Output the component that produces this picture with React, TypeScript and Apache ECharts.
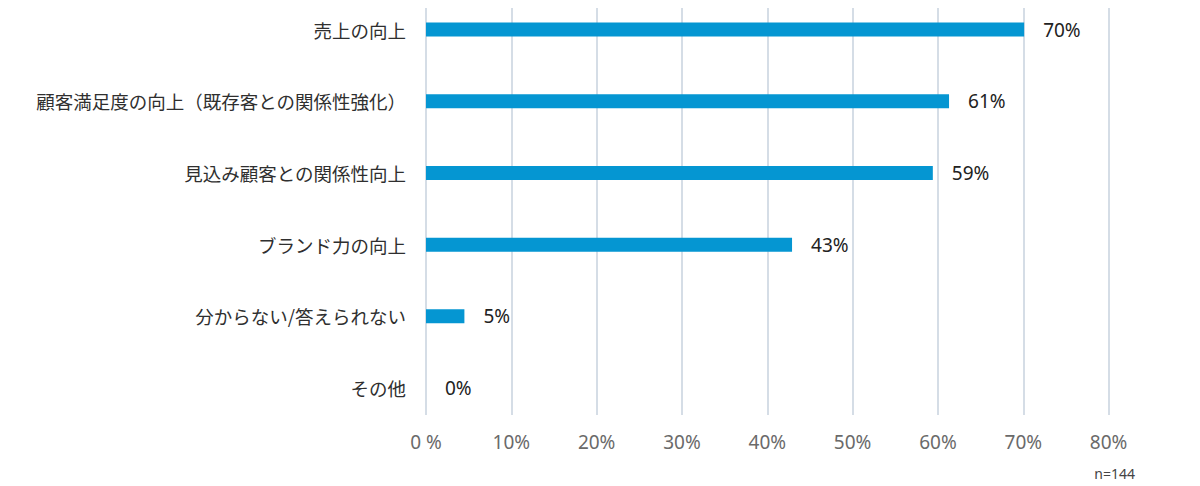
import React, { useEffect, useRef } from "react";
import * as echarts from "echarts";

const categories = [
  "売上の向上",
  "顧客満足度の向上（既存客との関係性強化）",
  "見込み顧客との関係性向上",
  "ブランド力の向上",
  "分からない/答えられない",
  "その他",
];
const values = [70.1, 61.3, 59.4, 42.9, 4.5, 0];
const valueLabels = ["70%", "61%", "59%", "43%", "5%", "0%"];
const tickValues = [0, 10, 20, 30, 40, 50, 60, 70, 80];
const tickLabels = ["0 %", "10%", "20%", "30%", "40%", "50%", "60%", "70%", "80%"];
const note = "n=144";

export default function App() {
  const ref = useRef<HTMLDivElement>(null);
  useEffect(() => {
    if (!ref.current) return;
    const chart = echarts.init(ref.current, undefined, { renderer: "svg" });
    const latin = "'Noto Sans', 'Noto Sans CJK JP', sans-serif";
    const cjk = "'Noto Sans CJK JP', 'Noto Sans', sans-serif";
    chart.setOption({
      animation: false,
      backgroundColor: "#ffffff",
      grid: [
        { left: 426, right: 91.4, top: 8, height: 407 },
        { left: 426, right: 91.4, top: 29.6, height: 358.4 },
      ],
      xAxis: [
        {
          gridIndex: 0,
          type: "value",
          min: 0,
          max: 80,
          interval: 10,
          axisLine: { show: false },
          axisTick: { show: false },
          splitLine: { show: true, lineStyle: { color: "#d5dde6", width: 2 } },
          axisLabel: {
            margin: 17,
            fontSize: 19,
            color: "#6a6a6a",
            fontFamily: latin,
            formatter: (v: number) => tickLabels[tickValues.indexOf(v)] ?? v + "%",
          },
        },
        {
          gridIndex: 1,
          type: "value",
          min: 0,
          max: 80,
          interval: 10,
          show: false,
          splitLine: { show: false },
        },
      ],
      yAxis: [
        { gridIndex: 0, type: "category", data: categories, show: false },
        {
          gridIndex: 1,
          type: "category",
          data: categories,
          inverse: true,
          boundaryGap: false,
          axisLine: { show: false },
          axisTick: { show: false },
          splitLine: { show: false },
          axisLabel: {
            margin: 20,
            fontSize: 18.5,
            color: "#2f2f2f",
            fontFamily: cjk,
          },
        },
      ],
      series: [
        {
          type: "bar",
          xAxisIndex: 1,
          yAxisIndex: 1,
          data: values,
          barWidth: 14,
          itemStyle: { color: "#0596d2" },
          label: {
            show: true,
            position: "right",
            distance: 19,
            fontSize: 19,
            color: "#222222",
            fontFamily: latin,
            formatter: (p: any) => valueLabels[p.dataIndex],
          },
        },
      ],
      graphic: [
        {
          type: "text",
          right: 65,
          top: 466,
          style: {
            text: note,
            fontSize: 14,
            fill: "#444444",
            fontFamily: latin,
          },
        },
      ],
    });
    return () => chart.dispose();
  }, []);
  return (
    <div
      ref={ref}
      style={{ position: "fixed", left: 0, top: 0, width: 1200, height: 486 }}
    />
  );
}
